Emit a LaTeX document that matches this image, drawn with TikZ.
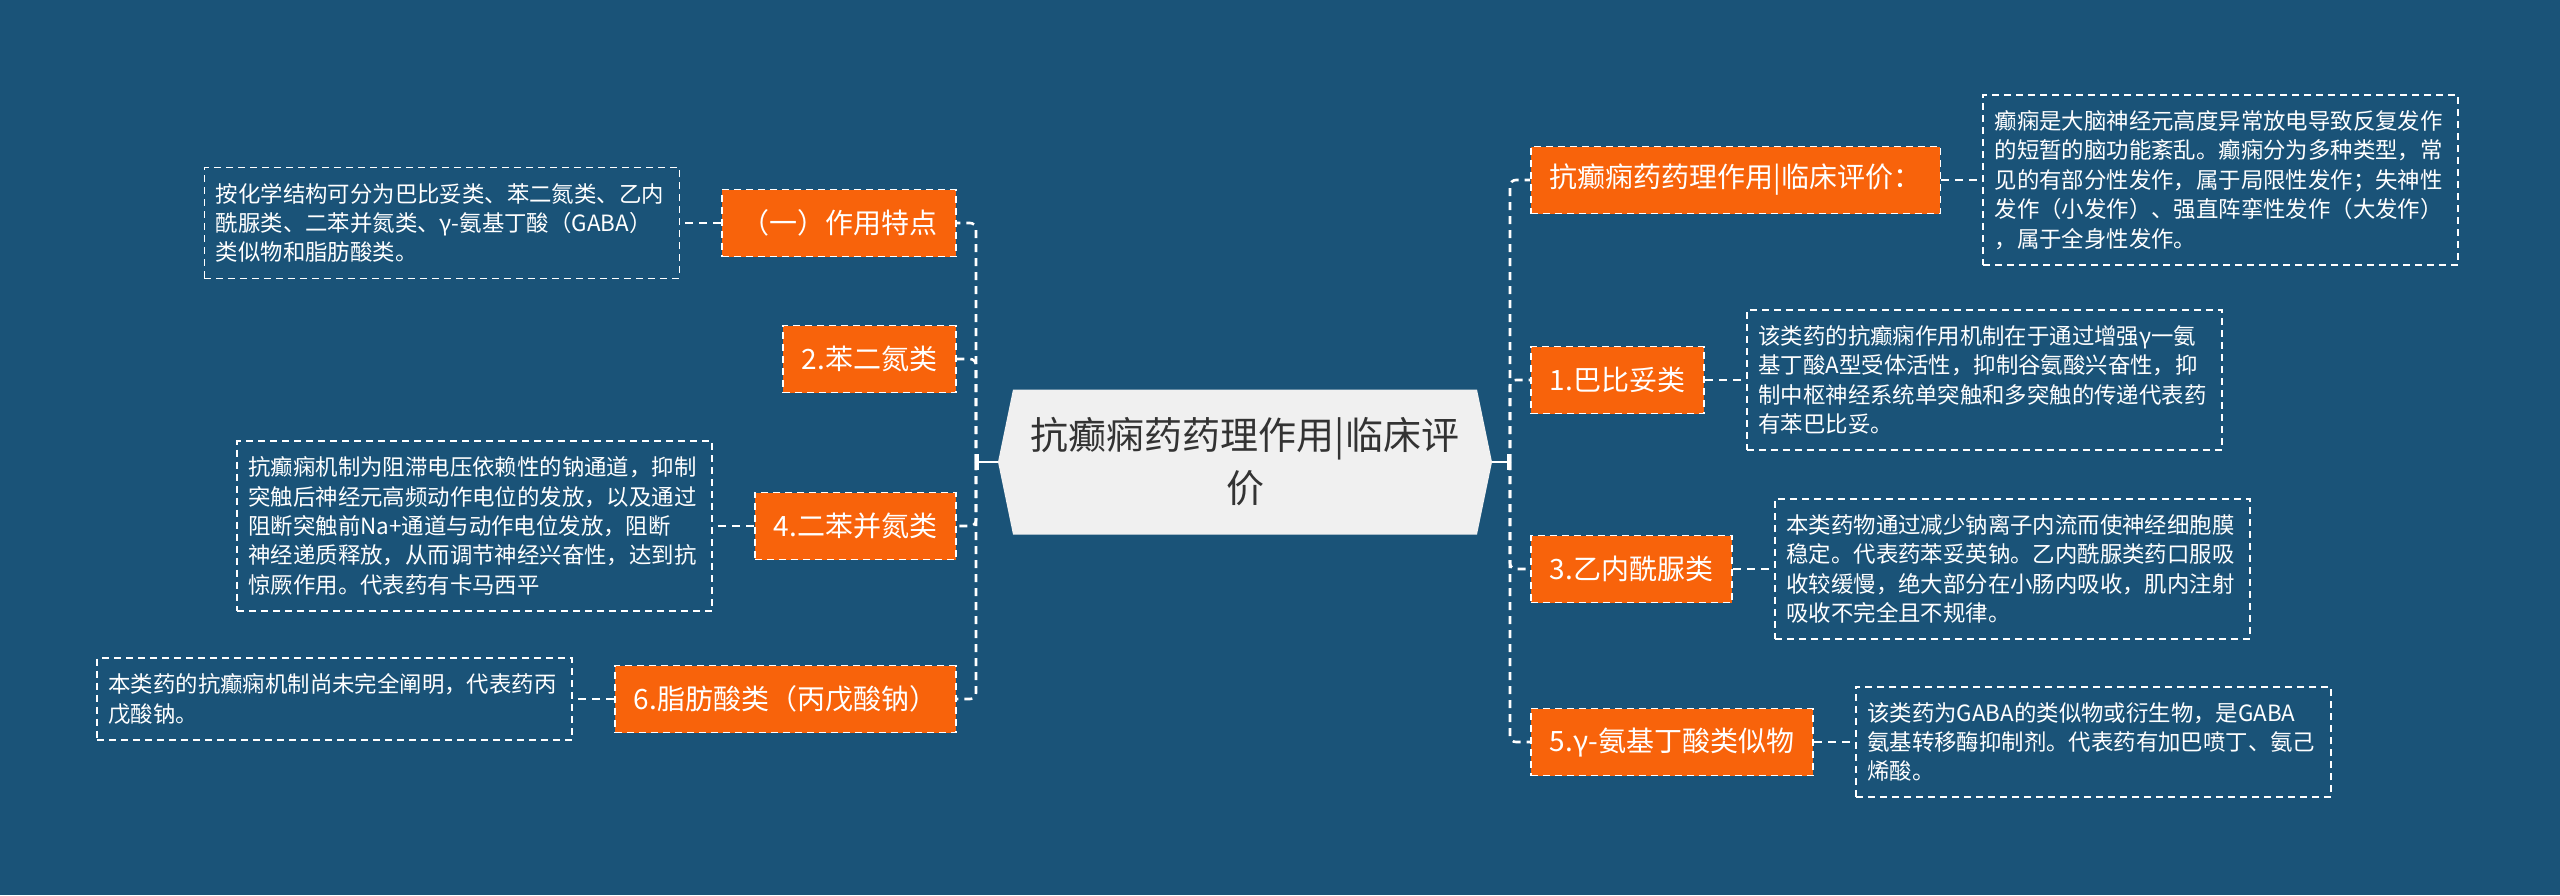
\documentclass[tikz,border=0pt]{standalone}
\usepackage{fontspec}
\setmainfont{Noto Sans CJK SC}
\usepackage{tikz}
\usetikzlibrary{arrows.meta,positioning}
\definecolor{MapBlue}{HTML}{1A5378}
\definecolor{MapOrange}{HTML}{F8630B}
\definecolor{MapPaper}{HTML}{F0F0F0}
\definecolor{MapInk}{HTML}{333333}

\begin{document}
\begin{tikzpicture}[
  x=0.5pt,y=-0.5pt,
  node distance=20.5pt,
  root/.style={minimum width=247pt,minimum height=72.5pt,align=center,text=MapInk,
               font=\fontsize{19}{26.5}\selectfont,
               path picture={\fill[MapPaper] ([xshift=7.5pt]path picture bounding box.north west)
                 -- ([xshift=-7.5pt]path picture bounding box.north east) -- (path picture bounding box.east)
                 -- ([xshift=-7.5pt]path picture bounding box.south east)
                 -- ([xshift=7.5pt]path picture bounding box.south west) -- (path picture bounding box.west) -- cycle;}},
  branch/.style={draw=white,dash pattern=on 3.5pt off 2.5pt,line width=0.9pt,fill=MapOrange,
                 text=white,minimum height=33.5pt,inner xsep=9.5pt,font=\fontsize{14}{17}\selectfont},
  leaf/.style={draw=white,dash pattern=on 3.5pt off 2.5pt,line width=0.8pt,text=white,align=left,
               text width=226pt,inner xsep=5.75pt,inner ysep=7.75pt,font=\fontsize{11.2}{14.7}\selectfont},
  link/.style={draw=white,line width=1.3pt,dash pattern=on 4pt off 3pt,rounded corners=3pt},
  stem/.style={draw=white,line width=1.3pt,-{Bar[width=8pt]}}
]
\fill[MapBlue] (0,0) rectangle (2560,895);
\useasboundingbox (0,0) rectangle (2560,895);

\node[root] (root) at (1245,462) {抗癫痫药药理作用|临床评\\价};

% left branches
\node[branch,anchor=east] (feature) at (957,223) {（一）作用特点};
\node[branch,anchor=east] (benzo) at (957,359) {2.苯二氮类};
\node[branch,anchor=east] (dibenz) at (957,526) {4.二苯并氮类};
\node[branch,anchor=east] (fatty) at (957,699) {6.脂肪酸类（丙戊酸钠）};

\node[leaf,left=of feature] (featureText) {按化学结构可分为巴比妥类、苯二氮类、乙内\\酰脲类、二苯并氮类、γ-氨基丁酸（GABA）\\类似物和脂肪酸类。};
\node[leaf,left=of dibenz] (dibenzText) {抗癫痫机制为阻滞电压依赖性的钠通道，抑制\\突触后神经元高频动作电位的发放，以及通过\\阻断突触前Na+通道与动作电位发放，阻断\\神经递质释放，从而调节神经兴奋性，达到抗\\惊厥作用。代表药有卡马西平};
\node[leaf,left=of fatty] (fattyText) {本类药的抗癫痫机制尚未完全阐明，代表药丙\\戊酸钠。};

% right branches
\node[branch,anchor=west] (intro) at (1530,180) {抗癫痫药药理作用|临床评价：};
\node[branch,anchor=west] (barb) at (1530,380) {1.巴比妥类};
\node[branch,anchor=west] (hyd) at (1530,569) {3.乙内酰脲类};
\node[branch,anchor=west] (gaba) at (1530,742) {5.γ-氨基丁酸类似物};

\node[leaf,right=of intro] (introText) {癫痫是大脑神经元高度异常放电导致反复发作\\的短暂的脑功能紊乱。癫痫分为多种类型，常\\见的有部分性发作，属于局限性发作；失神性\\发作（小发作）、强直阵挛性发作（大发作）\\，属于全身性发作。};
\node[leaf,right=of barb] (barbText) {该类药的抗癫痫作用机制在于通过增强γ一氨\\基丁酸A型受体活性，抑制谷氨酸兴奋性，抑\\制中枢神经系统单突触和多突触的传递代表药\\有苯巴比妥。};
\node[leaf,right=of hyd] (hydText) {本类药物通过减少钠离子内流而使神经细胞膜\\稳定。代表药苯妥英钠。乙内酰脲类药口服吸\\收较缓慢，绝大部分在小肠内吸收，肌内注射\\吸收不完全且不规律。};
\node[leaf,right=of gaba] (gabaText) {该类药为GABA的类似物或衍生物，是GABA\\氨基转移酶抑制剂。代表药有加巴喷丁、氨己\\烯酸。};

% connectors
\coordinate (lhub) at (976,462);
\coordinate (rhub) at (1510,462);
\draw[stem] (root.west) -- (lhub);
\draw[stem] (root.east) -- (rhub);
\foreach \b in {feature,benzo,dibenz,fatty}
  \draw[link] (lhub) |- (\b.east);
\foreach \b in {intro,barb,hyd,gaba}
  \draw[link] (rhub) |- (\b.west);
\foreach \b in {feature,dibenz,fatty}
  \draw[link] (\b.west) -- (\b Text.east);
\foreach \b in {intro,barb,hyd,gaba}
  \draw[link] (\b.east) -- (\b Text.west);
\end{tikzpicture}
\end{document}
